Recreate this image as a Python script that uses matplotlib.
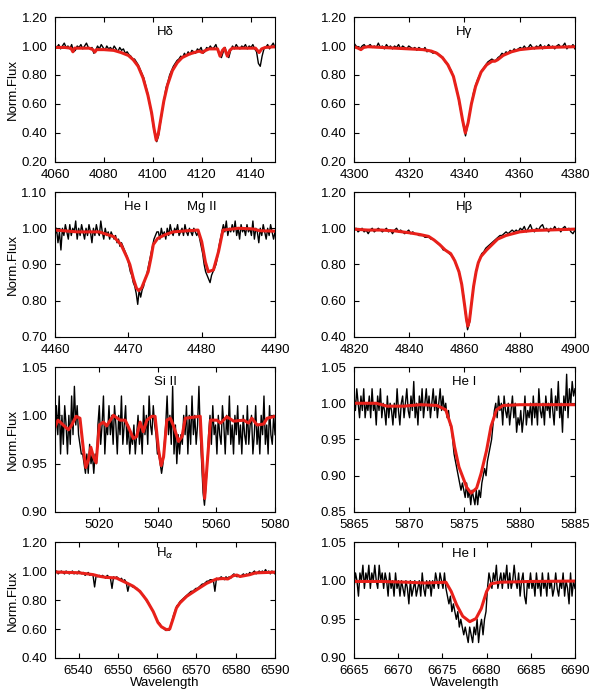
import numpy as np
import matplotlib
matplotlib.use("Agg")
import matplotlib.pyplot as plt

plt.rcParams['font.family'] = ['Liberation Sans', 'DejaVu Sans']

# ---- H delta ----
hd_obs = [1.00, 0.99, 1.01, 0.98, 1.00, 1.02, 0.99, 1.00, 0.98, 1.01,
          0.96, 0.97, 1.00, 0.99, 1.01, 0.98, 1.00, 1.02, 0.99, 0.98,
          0.99, 0.95, 0.97, 1.00, 0.98, 1.01, 0.99, 0.97, 1.00, 0.98,
          0.99, 0.97, 1.00, 0.98, 0.96, 0.99, 0.97, 0.98, 0.95, 0.96,
          0.94, 0.93, 0.91, 0.91, 0.89, 0.87, 0.84, 0.81, 0.78, 0.73,
          0.68, 0.61, 0.55, 0.46, 0.39, 0.34, 0.38, 0.47, 0.55, 0.63,
          0.71, 0.75, 0.80, 0.83, 0.86, 0.88, 0.90, 0.91, 0.93, 0.92,
          0.95, 0.93, 0.96, 0.94, 0.97, 0.96, 0.95, 0.98, 0.97, 0.99,
          0.95, 0.96, 0.99, 0.98, 1.00, 0.98, 0.99, 1.01, 0.97, 0.94,
          0.92, 0.96, 0.99, 0.94, 0.92, 0.97, 1.00, 0.98, 1.01, 0.99,
          0.98, 1.00, 0.99, 1.01, 0.98, 1.00, 0.99, 1.01, 0.98, 0.96,
          0.88, 0.86, 0.93, 0.98, 0.99, 1.01, 0.98, 1.00, 1.02, 0.99]
hd_mod_wl = [4060, 4064, 4066.5, 4067.3, 4068, 4074, 4075.5, 4076.3, 4077, 4080,
             4084, 4087, 4090, 4092, 4094, 4096, 4098, 4099.5, 4100.5, 4101.4,
             4102.3, 4103.3, 4104.5, 4106, 4108, 4110, 4112, 4115, 4119, 4120.3,
             4121, 4123, 4126.5, 4127.5, 4128.5, 4129.3, 4130.5, 4131.5, 4132.5,
             4142, 4143.5, 4144.5, 4146, 4150]
hd_mod = [0.99, 0.99, 0.985, 0.96, 0.985, 0.985, 0.975, 0.958, 0.975, 0.975,
          0.97, 0.955, 0.935, 0.905, 0.86, 0.78, 0.66, 0.54, 0.43, 0.35,
          0.40, 0.50, 0.62, 0.73, 0.83, 0.885, 0.92, 0.945, 0.965, 0.955,
          0.965, 0.98, 0.98, 0.93, 0.97, 0.985, 0.93, 0.97, 0.985,
          0.985, 0.955, 0.98, 0.99, 0.995]

# ---- H gamma ----
hg_obs = [1.02, 1.00, 0.99, 0.98, 1.00, 1.01, 0.99, 1.00, 1.01, 0.99,
          1.00, 0.99, 1.02, 0.99, 1.00, 0.98, 1.01, 0.99, 1.00, 0.98,
          1.00, 0.99, 1.01, 0.98, 1.00, 0.99, 0.98, 1.00, 0.99, 0.98,
          0.99, 0.97, 0.99, 0.98, 0.97, 0.99, 0.96, 0.97, 0.96, 0.95,
          0.96, 0.95, 0.94, 0.93, 0.92, 0.89, 0.88, 0.85, 0.83, 0.79,
          0.74, 0.68, 0.60, 0.53, 0.45, 0.38, 0.45, 0.53, 0.61, 0.68,
          0.73, 0.77, 0.80, 0.83, 0.85, 0.87, 0.89, 0.90, 0.91, 0.90,
          0.90, 0.92, 0.93, 0.95, 0.94, 0.96, 0.95, 0.97, 0.96, 0.98,
          0.97, 0.98, 0.99, 0.98, 1.00, 0.98, 0.99, 1.01, 0.99, 0.98,
          1.00, 0.99, 1.01, 0.98, 1.00, 0.99, 1.01, 0.99, 1.00, 0.98,
          1.00, 1.01, 0.99, 1.00, 1.02, 0.98, 1.00, 0.99, 1.01, 0.98]
hg_mod_wl = [4300, 4301.5, 4302.5, 4303.5, 4305, 4310, 4320, 4325, 4328, 4330,
             4332, 4334, 4336, 4338, 4339.3, 4340.3, 4341.3, 4342.5, 4344, 4346,
             4348, 4350, 4351, 4352, 4354, 4357, 4360, 4365, 4370, 4380]
hg_mod = [0.995, 0.985, 0.975, 0.99, 0.995, 0.99, 0.98, 0.975, 0.965, 0.95,
          0.92, 0.87, 0.79, 0.63, 0.49, 0.40, 0.47, 0.60, 0.72, 0.82,
          0.87, 0.895, 0.895, 0.905, 0.935, 0.96, 0.975, 0.985, 0.99, 0.995]

# ---- He I 4471 / Mg II 4481 ----
mg_obs = [0.98, 1.00, 0.96, 0.99, 0.94, 1.00, 0.98, 1.01, 0.99, 0.97,
          1.01, 0.98, 1.00, 0.99, 1.02, 0.97, 1.00, 0.98, 1.01, 0.99,
          0.97, 1.00, 0.98, 1.01, 0.99, 0.96, 1.00, 0.98, 1.01, 0.99,
          0.98, 1.02, 0.99, 0.97, 1.00, 0.98, 0.99, 0.97, 0.99, 0.98,
          0.97, 0.98, 0.96, 0.97, 0.95, 0.96, 0.95, 0.94, 0.93, 0.92,
          0.90, 0.88, 0.87, 0.85, 0.84, 0.82, 0.79, 0.83, 0.81, 0.83,
          0.84, 0.86, 0.87, 0.89, 0.91, 0.93, 0.95, 0.97, 0.98, 0.99,
          0.99, 0.97, 1.00, 0.98, 0.99, 0.97, 1.00, 0.98, 1.01, 0.99,
          0.98, 1.00, 0.99, 1.01, 0.98, 0.99, 1.00, 0.98, 1.01, 0.99,
          0.98, 1.00, 0.99, 0.98, 1.00, 0.99, 0.98, 0.99, 0.97, 0.95,
          0.93, 0.90, 0.88, 0.87, 0.86, 0.85, 0.87, 0.88, 0.89, 0.90,
          0.92, 0.95, 0.97, 0.99, 1.01, 0.99, 1.02, 0.98, 1.00, 0.99,
          1.01, 0.99, 1.02, 0.98, 1.00, 0.97, 1.01, 0.99, 1.00, 0.98,
          1.01, 0.99, 1.00, 0.98, 1.02, 0.97, 1.00, 0.99, 0.96, 1.00,
          0.98, 1.01, 0.99, 0.97, 1.00, 0.98, 1.01, 0.99, 0.97, 0.99]
mg_mod_wl = [4460, 4463, 4466, 4468, 4469, 4469.8, 4470.2, 4470.7, 4471.1, 4471.4,
             4471.8, 4472.3, 4472.7, 4473.1, 4473.4, 4474, 4475, 4476.1, 4478, 4479.5,
             4480, 4480.5, 4480.9, 4481.6, 4482.3, 4482.9, 4485, 4487, 4488, 4490]
mg_mod = [0.995, 0.99, 0.99, 0.977, 0.955, 0.92, 0.90, 0.86, 0.835, 0.828,
          0.835, 0.86, 0.88, 0.92, 0.955, 0.972, 0.982, 0.99, 0.993, 0.995,
          0.963, 0.907, 0.88, 0.885, 0.936, 0.995, 1.0, 0.998, 0.993, 0.992]

# ---- H beta ----
hb_obs = [0.99, 1.00, 0.98, 0.99, 1.00, 0.98, 0.99, 0.97, 0.99, 1.00,
          0.98, 0.99, 1.00, 0.99, 0.98, 0.99, 1.00, 0.98, 0.99, 0.97,
          0.99, 1.00, 0.98, 0.99, 0.98, 0.97, 0.98, 0.99, 0.97, 0.98,
          0.97, 0.97, 0.96, 0.96, 0.96, 0.95, 0.95, 0.95, 0.94, 0.94,
          0.93, 0.92, 0.91, 0.90, 0.88, 0.88, 0.87, 0.86, 0.85, 0.84,
          0.81, 0.78, 0.75, 0.70, 0.63, 0.53, 0.44, 0.48, 0.59, 0.68,
          0.75, 0.80, 0.83, 0.86, 0.87, 0.89, 0.90, 0.91, 0.92, 0.93,
          0.94, 0.95, 0.96, 0.96, 0.97, 0.98, 0.97, 0.98, 0.99, 0.98,
          0.99, 0.98, 1.00, 0.99, 1.01, 0.98, 1.00, 1.02, 0.99, 0.98,
          1.00, 0.99, 1.01, 1.02, 0.99, 1.00, 0.98, 1.00, 0.99, 1.01,
          0.99, 1.00, 0.98, 1.00, 1.01, 0.99, 1.00, 0.98, 0.97, 0.99]
hb_mod_wl = [4820, 4825, 4830, 4835, 4840, 4844, 4847, 4849, 4851, 4853,
             4855, 4856.5, 4858, 4859, 4860, 4860.7, 4861.2, 4861.8, 4862.5, 4863.3,
             4864.2, 4865, 4866, 4868, 4870, 4872, 4875, 4880, 4885, 4890, 4900]
hb_mod = [0.995, 0.99, 0.99, 0.985, 0.975, 0.965, 0.955, 0.935, 0.91, 0.88,
          0.86, 0.82, 0.76, 0.69, 0.58, 0.50, 0.46, 0.49, 0.58, 0.68,
          0.76, 0.81, 0.845, 0.88, 0.91, 0.94, 0.96, 0.98, 0.988, 0.99, 0.995]

# ---- Si II ----
si_obs = [0.97, 1.01, 0.98, 1.02, 0.96, 1.00, 0.97, 1.01, 0.99, 0.96,
          1.00, 0.97, 1.02, 0.98, 1.03, 0.99, 1.01, 0.98, 0.97, 0.96,
          0.96, 0.95, 0.94, 0.96, 0.94, 0.97, 0.95, 0.96, 0.94, 0.96,
          0.95, 0.99, 1.01, 0.97, 0.99, 1.02, 0.96, 0.99, 0.98, 1.01,
          0.98, 1.00, 0.97, 1.01, 0.99, 0.96, 1.00, 0.98, 1.02, 0.97,
          0.99, 1.01, 0.97, 0.99, 0.96, 0.98, 0.97, 0.99, 0.96, 0.98,
          1.00, 0.97, 0.99, 0.96, 1.01, 0.98, 1.00, 0.97, 1.02, 0.99,
          0.98, 1.01, 0.99, 0.98, 0.96, 0.96, 0.95, 0.94, 0.95, 0.97,
          0.99, 1.02, 0.98, 1.00, 0.97, 1.03, 0.96, 0.99, 0.95, 0.98,
          0.96, 0.98, 0.97, 1.00, 0.98, 1.01, 0.96, 1.00, 0.97, 1.02,
          0.98, 1.00, 0.97, 0.99, 1.03, 0.98, 0.95, 0.92, 0.907, 0.925,
          0.95, 0.98, 1.00, 0.97, 1.01, 0.98, 0.99, 0.96, 1.00, 0.98,
          0.97, 1.01, 0.99, 0.96, 1.00, 0.98, 1.02, 0.97, 0.99, 0.96,
          1.00, 0.98, 1.01, 0.97, 0.99, 0.96, 1.00, 0.98, 0.97, 1.01,
          0.97, 0.99, 1.00, 0.96, 0.98, 1.01, 0.97, 0.99, 0.96, 1.00,
          0.98, 1.02, 0.97, 0.99, 0.96, 1.01, 0.98, 0.97, 1.00, 0.98]
si_mod_wl = [5005, 5006, 5007.8, 5009.6, 5010.7, 5012.2, 5013.5, 5014.7, 5015.5, 5016.4,
             5017.2, 5018.1, 5019, 5020.1, 5021.5, 5022.6, 5024.9, 5027.2, 5028.9, 5030,
             5031.7, 5032.8, 5034, 5035.1, 5036.3, 5038, 5039.1, 5040.3, 5041.2, 5042,
             5043.1, 5044.3, 5045.4, 5047.1, 5048.3, 5049.4, 5054.5, 5055.1, 5056, 5056.8,
             5058, 5060.2, 5061.4, 5063.6, 5065.9, 5069.3, 5071, 5072.1, 5073.9, 5076.1,
             5077.3, 5080]
si_mod = [0.988, 0.995, 0.990, 0.985, 0.990, 0.999, 0.997, 0.964, 0.946, 0.954,
          0.967, 0.957, 0.951, 0.990, 0.993, 0.989, 1.000, 0.995, 0.995, 0.988,
          0.976, 0.978, 0.993, 0.983, 0.995, 0.999, 0.999, 0.964, 0.948, 0.957,
          0.995, 0.997, 0.989, 0.973, 0.978, 0.997, 0.999, 0.964, 0.914, 0.947,
          0.995, 0.995, 0.992, 0.9985, 0.994, 0.995, 0.992, 0.997, 0.990, 0.991,
          0.997, 0.999]

# ---- He I 5876 ----
he1_obs = [1.01, 0.99, 1.02, 1.00, 0.98, 1.01, 0.99, 1.02, 0.98, 1.00,
           0.99, 1.01, 0.98, 1.02, 0.99, 1.00, 0.97, 1.01, 0.99, 1.02,
           0.98, 1.00, 0.99, 0.97, 1.01, 0.98, 1.00, 0.99, 0.97, 1.00,
           0.98, 1.02, 0.99, 0.97, 1.00, 1.01, 0.98, 1.00, 1.02, 0.99,
           0.98, 1.01, 0.99, 1.03, 0.98, 1.00, 0.97, 1.01, 0.99, 1.02,
           0.98, 1.00, 1.02, 0.99, 1.01, 0.98, 1.00, 1.02, 0.99, 1.01,
           0.98, 1.00, 1.02, 0.99, 1.01, 0.99, 1.00, 0.98, 0.99, 0.97,
           0.97, 0.95, 0.93, 0.92, 0.91, 0.90, 0.89, 0.88, 0.89, 0.88,
           0.87, 0.89, 0.87, 0.88, 0.86, 0.88, 0.87, 0.86, 0.88, 0.86,
           0.88, 0.87, 0.89, 0.90, 0.91, 0.90, 0.92, 0.93, 0.94, 0.95,
           0.97, 0.99, 1.00, 0.98, 1.01, 0.99, 1.00, 0.97, 1.01, 0.99,
           0.98, 1.00, 0.97, 0.99, 1.01, 0.98, 1.00, 0.96, 0.98, 0.97,
           0.99, 0.96, 0.98, 1.01, 0.97, 0.99, 0.98, 1.00, 0.97, 1.01,
           0.98, 1.00, 0.97, 1.02, 0.99, 0.98, 1.00, 0.97, 1.01, 0.99,
           1.00, 0.98, 1.02, 0.99, 0.97, 1.01, 0.99, 1.03, 0.98, 1.00,
           0.96, 1.01, 0.99, 1.04, 0.98, 1.02, 1.00, 1.03, 1.01, 1.02]
he1_mod_wl = [5865, 5867, 5868, 5869.5, 5871, 5872.5, 5873.3, 5873.8, 5874.1, 5874.5,
              5875.2, 5875.6, 5876.1, 5876.5, 5877, 5877.4, 5877.9, 5878.5, 5880, 5885]
he1_mod = [1.0, 1.0, 0.996, 0.996, 0.998, 0.997, 0.991, 0.968, 0.94, 0.912,
           0.884, 0.876, 0.883, 0.903, 0.935, 0.968, 0.991, 0.997, 0.998, 0.998]

# ---- H alpha ----
ha_obs = [0.99, 1.00, 0.98, 0.99, 1.00, 0.99, 0.98, 1.00, 0.99, 0.98,
          0.99, 1.00, 0.98, 0.99, 0.98, 1.00, 0.99, 0.98, 0.99, 0.97,
          0.98, 0.99, 0.97, 0.98, 0.97, 0.89, 0.97, 0.96, 0.97, 0.96,
          0.97, 0.96, 0.95, 0.97, 0.96, 0.95, 0.88, 0.96, 0.95, 0.96,
          0.95, 0.94, 0.95, 0.93, 0.94, 0.92, 0.86, 0.91, 0.90, 0.89,
          0.89, 0.88, 0.88, 0.86, 0.85, 0.84, 0.83, 0.81, 0.79, 0.78,
          0.76, 0.74, 0.72, 0.70, 0.67, 0.65, 0.64, 0.62, 0.61, 0.60,
          0.59, 0.60, 0.59, 0.62, 0.66, 0.70, 0.73, 0.76, 0.77, 0.79,
          0.80, 0.81, 0.82, 0.83, 0.84, 0.85, 0.86, 0.86, 0.87, 0.88,
          0.88, 0.89, 0.90, 0.91, 0.91, 0.92, 0.93, 0.93, 0.94, 0.94,
          0.94, 0.86, 0.95, 0.94, 0.95, 0.96, 0.95, 0.94, 0.96, 0.95,
          0.96, 0.95, 0.97, 0.98, 0.97, 0.96, 0.97, 0.96, 0.97, 0.98,
          0.97, 0.98, 0.97, 0.99, 0.98, 0.99, 1.00, 0.98, 0.99, 1.00,
          0.99, 1.00, 0.99, 1.01, 0.99, 1.00, 0.98, 1.00, 0.99, 0.98]
ha_mod_wl = [6534, 6540, 6543.7, 6545.4, 6547, 6549.6, 6552.2, 6553.9, 6555.6, 6557.3,
             6559, 6560.2, 6561.1, 6562.4, 6563.2, 6564.1, 6564.9, 6565.8, 6567.5, 6570,
             6572.6, 6575.1, 6576.8, 6578, 6579.4, 6580.3, 6581.1, 6583.6, 6585, 6588, 6590]
ha_mod = [0.993, 0.988, 0.975, 0.963, 0.956, 0.952, 0.918, 0.895, 0.86, 0.80,
          0.72, 0.645, 0.615, 0.595, 0.60, 0.675, 0.745, 0.78, 0.825, 0.87,
          0.915, 0.945, 0.948, 0.945, 0.968, 0.972, 0.962, 0.975, 0.987, 0.99, 0.992]

# ---- He I 6678 ----
he2_obs = [0.99, 1.01, 1.00, 0.98, 1.01, 1.00, 1.02, 0.99, 1.01, 1.00,
           1.02, 0.99, 1.01, 1.00, 1.02, 1.00, 0.99, 1.02, 1.00, 1.01,
           0.99, 1.01, 1.00, 0.98, 1.01, 0.99, 1.00, 0.98, 1.01, 0.99,
           1.00, 0.98, 1.00, 0.99, 0.98, 1.00, 0.99, 0.97, 1.00, 0.98,
           0.99, 1.00, 0.98, 0.99, 1.00, 0.98, 1.01, 0.99, 0.98, 1.00,
           0.99, 1.00, 0.98, 1.00, 0.99, 1.01, 1.00, 0.99, 1.01, 1.00,
           0.99, 1.01, 0.99, 0.98, 0.97, 0.98, 0.96, 0.97, 0.96, 0.95,
           0.96, 0.94, 0.95, 0.94, 0.93, 0.94, 0.93, 0.92, 0.94, 0.93,
           0.92, 0.94, 0.93, 0.95, 0.92, 0.94, 0.95, 0.93, 0.95, 0.96,
           0.99, 1.01, 1.00, 0.99, 1.01, 1.00, 1.02, 0.99, 1.00, 1.01,
           0.99, 1.01, 1.00, 1.02, 0.99, 1.01, 0.99, 1.00, 1.02, 1.00,
           0.99, 1.01, 0.98, 1.00, 1.01, 0.98, 0.97, 1.00, 0.99, 1.01,
           0.99, 1.00, 0.98, 1.01, 0.99, 1.00, 0.98, 1.01, 0.99, 1.00,
           0.98, 1.01, 0.99, 1.00, 0.98, 0.99, 1.01, 0.99, 0.98, 1.00,
           0.99, 1.01, 0.98, 1.00, 0.99, 0.97, 1.01, 0.98, 1.00, 0.99]
he2_mod_wl = [6665, 6668, 6671, 6673, 6675.4, 6676, 6676.6, 6677.3, 6678.1, 6678.8,
              6679.4, 6680, 6680.5, 6681.5, 6685, 6690]
he2_mod = [0.999, 0.999, 0.998, 0.997, 0.998, 0.986, 0.969, 0.954, 0.947, 0.951,
           0.964, 0.986, 0.996, 0.998, 0.999, 0.9995]

panels = [
    # obs, model wl, model flux, xlim, xticks, ylim, yticks
    (hd_obs, hd_mod_wl, hd_mod, (4060, 4150), np.arange(4060, 4141, 20), (0.2, 1.2), np.arange(0.2, 1.21, 0.2)),
    (hg_obs, hg_mod_wl, hg_mod, (4300, 4380), np.arange(4300, 4381, 20), (0.2, 1.2), np.arange(0.2, 1.21, 0.2)),
    (mg_obs, mg_mod_wl, mg_mod, (4460, 4490), np.arange(4460, 4491, 10), (0.7, 1.1), np.arange(0.7, 1.11, 0.1)),
    (hb_obs, hb_mod_wl, hb_mod, (4820, 4900), np.arange(4820, 4901, 20), (0.4, 1.2), np.arange(0.4, 1.21, 0.2)),
    (si_obs, si_mod_wl, si_mod, (5005, 5080), np.arange(5020, 5081, 20), (0.9, 1.05), np.arange(0.9, 1.051, 0.05)),
    (he1_obs, he1_mod_wl, he1_mod, (5865, 5885), np.arange(5865, 5886, 5), (0.85, 1.05), np.arange(0.85, 1.051, 0.05)),
    (ha_obs, ha_mod_wl, ha_mod, (6534, 6590), np.arange(6540, 6591, 10), (0.4, 1.2), np.arange(0.4, 1.21, 0.2)),
    (he2_obs, he2_mod_wl, he2_mod, (6665, 6690), np.arange(6665, 6691, 5), (0.9, 1.05), np.arange(0.9, 1.051, 0.05)),
]
labels = ['H\u03b4', 'H\u03b3', None, 'H\u03b2', 'Si II', 'He I', r'H$_{\alpha}$', 'He I']

fig = plt.figure(figsize=(6, 7), dpi=100)
lefts = [0.0917, 0.59]
widths = [0.3667, 0.3683]
bottoms = [0.7686, 0.5186, 0.2686, 0.06]
heights = [0.2071, 0.2071, 0.2071, 0.1657]
fs = 9.5

for k, (obs, mwl, mfl, xl, xt, yl, yt) in enumerate(panels):
    row, col = k // 2, k % 2
    ax = fig.add_axes([lefts[col], bottoms[row], widths[col], heights[row]])
    owl = np.linspace(xl[0], xl[1], len(obs))
    ax.plot(owl, obs, color='black', lw=1.0)
    ax.plot(mwl, mfl, color='#e8201a', lw=2.2)
    ax.set_xlim(*xl)
    ax.set_ylim(*yl)
    ax.set_xticks(xt)
    ax.set_yticks(yt)
    ax.set_yticklabels(['%.2f' % v for v in yt])
    ax.tick_params(direction='in', top=True, right=True, length=3.5, width=0.8,
                   labelsize=fs)
    ax.tick_params(axis='x', pad=5)
    ax.tick_params(axis='y', pad=5.5)
    for s in ax.spines.values():
        s.set_linewidth(0.8)
    if col == 0:
        ax.set_ylabel('Norm.Flux', fontsize=fs, labelpad=2)
    if row == 3:
        ax.set_xlabel('Wavelength', fontsize=fs, labelpad=0)
    if labels[k] is not None:
        ax.text(0.5, 0.9, labels[k], transform=ax.transAxes, ha='center',
                va='center', fontsize=fs)
    else:
        ax.text(4471.0, 1.06, 'He I', ha='center', va='center', fontsize=fs)
        ax.text(4480.0, 1.06, 'Mg II', ha='center', va='center', fontsize=fs)

fig.savefig('out.png', dpi=100)
